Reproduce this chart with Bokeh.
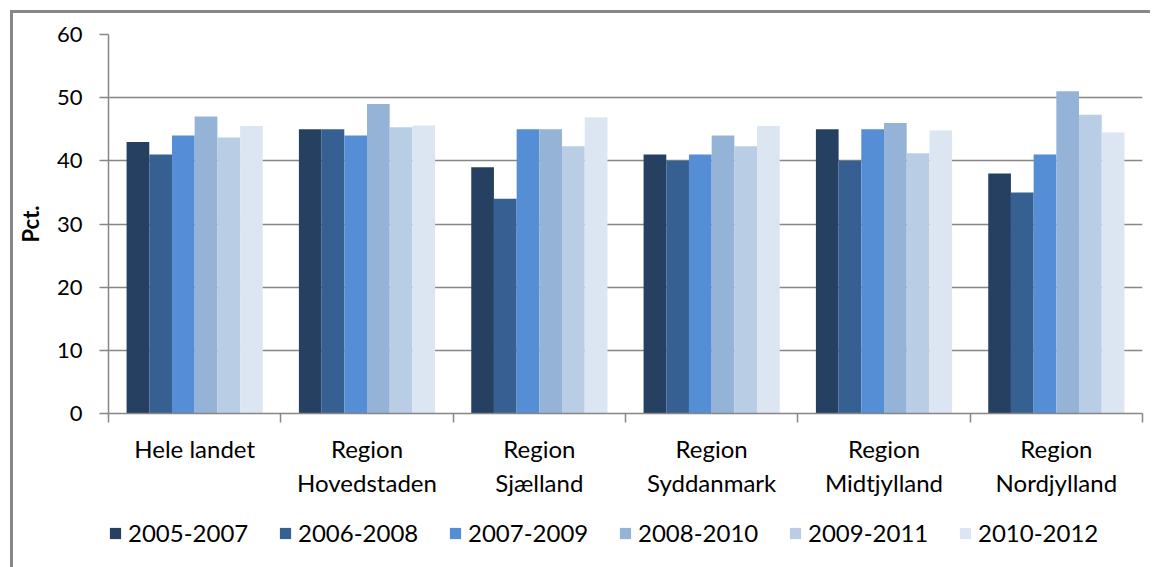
from bokeh.plotting import figure
from bokeh.layouts import column
from bokeh.models import FixedTicker, Legend, LegendItem, ColumnDataSource, Range1d
from bokeh.embed import file_html
from bokeh.resources import INLINE

categories = ["Hele landet", "Region\nHovedstaden", "Region\nSjælland",
              "Region\nSyddanmark", "Region\nMidtjylland", "Region\nNordjylland"]
periods = ["2005-2007", "2006-2008", "2007-2009", "2008-2010", "2009-2011", "2010-2012"]
v2005_2007 = [43, 45, 39, 41, 45, 38]
v2006_2008 = [41, 45, 34, 40, 40, 35]
v2007_2009 = [44, 44, 45, 41, 45, 41]
v2008_2010 = [47, 49, 45, 44, 46, 51]
v2009_2011 = [43.7, 45.3, 42.3, 42.3, 41.2, 47.3]
v2010_2012 = [45.5, 45.6, 46.9, 45.5, 44.8, 44.5]
y_ticks = [0, 10, 20, 30, 40, 50, 60]

series = [v2005_2007, v2006_2008, v2007_2009, v2008_2010, v2009_2011, v2010_2012]
colors = ["#254061", "#366092", "#558ED5", "#95B3D7", "#B9CDE5", "#DCE6F2"]
FONT = "Lato"
GREY = "#868686"

p = figure(width=1137, height=487, output_backend="svg", toolbar_location=None,
           x_range=Range1d(0, len(categories)), y_range=Range1d(0, 60),
           min_border_left=89, min_border_right=8, min_border_top=21, min_border_bottom=82)
p.outline_line_color = None
p.background_fill_color = "white"

centers = [i + 0.5 for i in range(len(categories))]
bw = 0.1317
sources = []
for j, (vals, col) in enumerate(zip(series, colors)):
    xs = [c + (j - 2.5) * bw for c in centers]
    src = ColumnDataSource(dict(x=xs, top=vals))
    sources.append(src)
    p.vbar(x="x", top="top", width=bw, bottom=0, source=src,
           fill_color=col, line_color=None)

# x axis
p.xgrid.visible = False
p.xaxis.ticker = FixedTicker(ticks=centers, minor_ticks=list(range(len(categories) + 1)))
p.xaxis.major_label_overrides = {c: lab for c, lab in zip(centers, categories)}
p.xaxis.major_tick_line_color = None
p.xaxis.major_tick_out = 0
p.xaxis.major_tick_in = 0
p.xaxis.minor_tick_out = 9
p.xaxis.minor_tick_in = 0
p.xaxis.minor_tick_line_color = GREY
p.xaxis.minor_tick_line_width = 1.5
p.xaxis.axis_line_color = GREY
p.xaxis.axis_line_width = 1.5
p.xaxis.major_label_text_font = FONT
p.xaxis.major_label_text_font_size = "24px"
p.xaxis.major_label_text_color = "black"
p.xaxis.major_label_standoff = 11

# y axis
p.yaxis.ticker = FixedTicker(ticks=y_ticks)
p.yaxis.minor_tick_line_color = None
p.yaxis.major_tick_out = 9
p.yaxis.major_tick_in = 0
p.yaxis.major_tick_line_color = GREY
p.yaxis.major_tick_line_width = 1.5
p.yaxis.axis_line_color = GREY
p.yaxis.axis_line_width = 1.5
p.yaxis.major_label_text_font = FONT
p.yaxis.major_label_text_font_size = "22px"
p.yaxis.major_label_text_color = "black"
p.yaxis.major_label_standoff = 17
p.yaxis.axis_label = "Pct."
p.yaxis.axis_label_text_font = FONT
p.yaxis.axis_label_text_font_size = "22px"
p.yaxis.axis_label_text_font_style = "bold"
p.yaxis.axis_label_text_color = "black"
p.yaxis.axis_label_standoff = 10
p.ygrid.grid_line_color = GREY
p.ygrid.grid_line_width = 1.5

# legend strip: same sources, viewed outside their value range so only swatches show
p2 = figure(width=1137, height=67, output_backend="svg", toolbar_location=None,
            x_axis_location=None, y_axis_location=None, min_border=0,
            x_range=Range1d(0, len(categories)), y_range=Range1d(100, 101))
p2.outline_line_color = None
p2.grid.visible = False
swatches = [p2.vbar(x="x", top="top", width=bw, bottom=0, source=src,
                    fill_color=col, line_color=None)
            for src, col in zip(sources, colors)]
legend = Legend(items=[LegendItem(label=lab, renderers=[r]) for lab, r in zip(periods, swatches)],
                orientation="horizontal", location=(0, 20),
                glyph_width=14, glyph_height=14, label_standoff=6, spacing=20,
                label_width=130, label_height=24, padding=0, margin=0,
                border_line_color=None, background_fill_alpha=0,
                label_text_font=FONT, label_text_font_size="24px", label_text_color="black")
p2.add_layout(legend, "center")

layout = column(p, p2, spacing=0, margin=(10, 0, 0, 10),
                styles={"border-left": "3px solid #888888", "border-top": "3px solid #888888"})

open("out.html", "w").write(file_html(layout, INLINE))
